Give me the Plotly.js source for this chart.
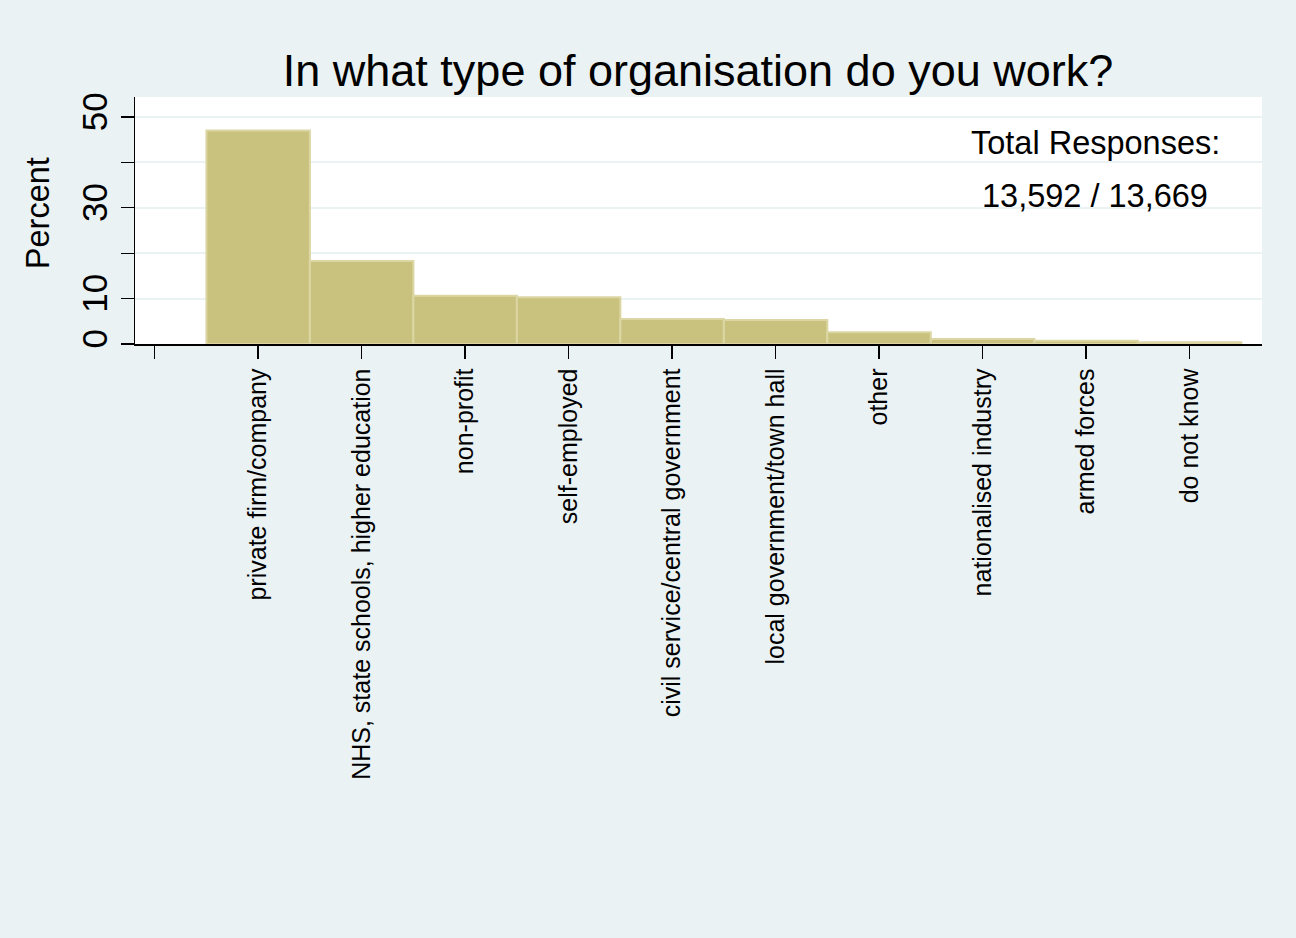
<!DOCTYPE html>
<html>
<head>
<meta charset="utf-8">
<script src="https://cdn.plot.ly/plotly-3.0.1.min.js"></script>
<style>html,body{margin:0;padding:0;background:#EAF2F3;}#chart{width:1296px;height:938px;}</style>
</head>
<body>
<div id="chart"></div>
<script>
const categories = [
  "private firm/company",
  "NHS, state schools, higher education",
  "non-profit",
  "self-employed",
  "civil service/central government",
  "local government/town hall",
  "other",
  "nationalised industry",
  "armed forces",
  "do not know"
];
const percent = [47.0, 18.3, 10.6, 10.3, 5.5, 5.3, 2.6, 1.1, 0.7, 0.4];
const yTickVals = [0, 10, 20, 30, 40, 50];
const yTickText = ["0", "10", "", "30", "", "50"];
const chartTitle = "In what type of organisation do you work?";
const yTitle = "Percent";
const noteLines = ["Total Responses:", "13,592 / 13,669"];

const FONT = "Liberation Sans, Arial, Helvetica, sans-serif";
const allCats = [" "].concat(categories);

const trace = {
  type: "bar",
  x: categories,
  y: percent,
  marker: { color: "#C9C27E", line: { color: "#DCD6A4", width: 2 } },
  hoverinfo: "x+y"
};

const layout = {
  width: 1296, height: 938,
  paper_bgcolor: "#EAF2F3",
  plot_bgcolor: "#FFFFFF",
  margin: { l: 135, r: 34, t: 97, b: 594 },
  bargap: 0,
  showlegend: false,
  font: { family: FONT, color: "#000000" },
  title: {
    text: chartTitle,
    font: { family: FONT, size: 45, color: "#000000" },
    x: 0.5386, xanchor: "center",
    y: 1 - 70 / 938, yref: "container", yanchor: "middle"
  },
  xaxis: {
    type: "category",
    categoryorder: "array",
    categoryarray: allCats,
    range: [-0.19, 10.7],
    showgrid: false,
    zeroline: false,
    showline: true, linecolor: "#000000", linewidth: 1.5,
    ticks: "outside", ticklen: 13, tickwidth: 1.3, tickcolor: "#000000",
    tickangle: -90,
    tickfont: { family: FONT, size: 25, color: "#000000" },
    fixedrange: true
  },
  yaxis: {
    range: [0, 54.4],
    tickvals: yTickVals,
    ticktext: yTickText,
    tickangle: -90,
    ticks: "outside", ticklen: 13, tickwidth: 1.3, tickcolor: "#000000",
    tickfont: { family: FONT, size: 35, color: "#000000" },
    showgrid: true, gridcolor: "#EAF2F3", gridwidth: 2,
    zeroline: false,
    showline: true, linecolor: "#000000", linewidth: 1.5,
    fixedrange: true
  },
  annotations: [
    { xref: "paper", yref: "paper", x: -0.086, y: 0.53, text: yTitle, showarrow: false, textangle: -90,
      xanchor: "center", yanchor: "middle", font: { family: FONT, size: 32.5, color: "#000000" } },
    { xref: "paper", yref: "paper", x: 0.852, y: 0.814, text: noteLines[0], showarrow: false,
      xanchor: "center", yanchor: "middle", font: { family: FONT, size: 32.5, color: "#000000" } },
    { xref: "paper", yref: "paper", x: 0.852, y: 0.599, text: noteLines[1], showarrow: false,
      xanchor: "center", yanchor: "middle", font: { family: FONT, size: 32.5, color: "#000000" } }
  ]
};

Plotly.newPlot("chart", [trace], layout, { displayModeBar: false, staticPlot: true });
</script>
</body>
</html>
